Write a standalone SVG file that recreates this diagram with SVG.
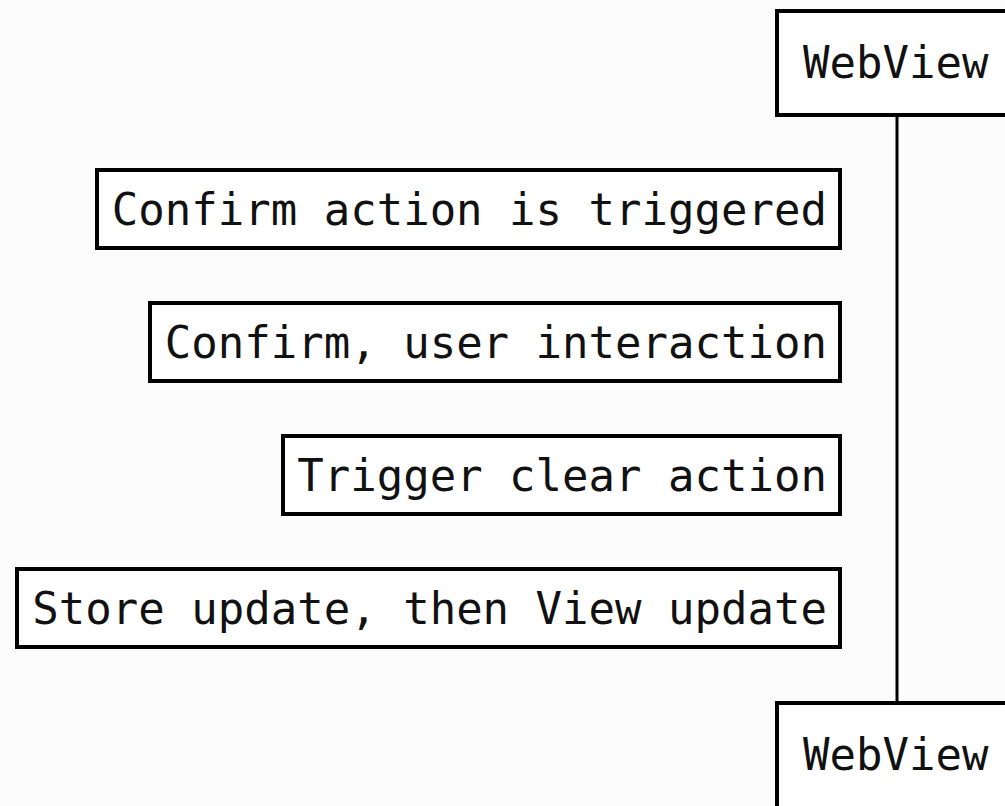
<svg xmlns="http://www.w3.org/2000/svg" width="1005" height="806" viewBox="0 0 1005 806">
  <style>
    .box { fill: #ffffff; stroke: #000000; stroke-width: 4; }
    .lbl { font-family: "DejaVu Sans Mono", "Liberation Mono", monospace; font-size: 44px; fill: #111111; }
    .life { stroke: #000000; stroke-width: 3; fill: none; }
  </style>
  <rect x="0" y="0" width="1005" height="806" fill="#fcfcfc"/>

  <g id="connectors">
    <line class="life" x1="897" y1="115" x2="897" y2="703"/>
  </g>

  <g id="webview-top">
    <rect class="box" x="777" y="11" width="260" height="104"/>
    <text class="lbl" x="803" y="78">WebView</text>
  </g>

  <g id="webview-bottom">
    <rect class="box" x="777" y="703" width="260" height="130"/>
    <text class="lbl" x="803" y="770">WebView</text>
  </g>

  <g id="note-confirm-triggered">
    <rect class="box" x="97" y="170" width="743" height="78"/>
    <text class="lbl" x="827" y="225" text-anchor="end">Confirm action is triggered</text>
  </g>

  <g id="note-confirm-interaction">
    <rect class="box" x="150" y="303" width="690" height="78"/>
    <text class="lbl" x="827" y="358" text-anchor="end">Confirm, user interaction</text>
  </g>

  <g id="note-trigger-clear">
    <rect class="box" x="283" y="436" width="557" height="78"/>
    <text class="lbl" x="827" y="491" text-anchor="end">Trigger clear action</text>
  </g>

  <g id="note-store-update">
    <rect class="box" x="17" y="569" width="823" height="78"/>
    <text class="lbl" x="827" y="624" text-anchor="end">Store update, then View update</text>
  </g>
</svg>
